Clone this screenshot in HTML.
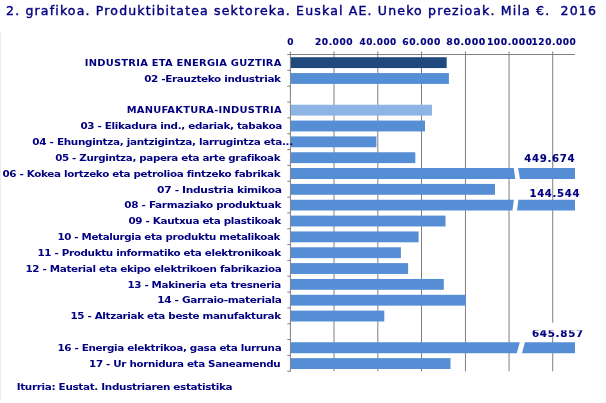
<!DOCTYPE html>
<html lang="eu"><head><meta charset="utf-8"><title>2. grafikoa</title>
<style>
html,body{margin:0;padding:0;background:#fff;}
body{width:606px;height:403px;overflow:hidden;position:relative;}
svg{position:absolute;left:0;top:0;display:block;}
text{font-family:"DejaVu Sans","Liberation Sans",sans-serif;fill:#000080;white-space:pre;}
.b{font-weight:bold;font-size:9.5px;letter-spacing:-0.3px}
.v{font-weight:bold;font-size:10.4px;letter-spacing:0.7px;stroke:#000080;stroke-width:0.12px}
.t{font-size:12.4px;letter-spacing:1.15px;stroke:#000080;stroke-width:0.4px}
.a{font-weight:bold;font-size:9.5px;letter-spacing:0.55px;stroke:#000080;stroke-width:0.12px}
.c{font-weight:bold;font-size:9.5px;letter-spacing:0.25px}
</style></head><body>
<svg width="606" height="403" viewBox="0 0 606 403" role="img" aria-label="2. grafikoa">
<rect x="0" y="0" width="606" height="403" fill="#fff"/>
<rect x="0" y="33" width="1" height="367.5" fill="#ececec"/>
<rect x="333.50" y="51.5" width="1" height="319.76" fill="#808080"/>
<rect x="377.30" y="51.5" width="1" height="319.76" fill="#808080"/>
<rect x="421.00" y="51.5" width="1" height="319.76" fill="#808080"/>
<rect x="464.95" y="51.5" width="1" height="319.76" fill="#808080"/>
<rect x="508.55" y="51.5" width="1" height="319.76" fill="#808080"/>
<rect x="552.20" y="51.5" width="1" height="319.76" fill="#808080"/>
<rect x="289.90" y="51.5" width="1" height="320.26" fill="#808080"/>
<rect x="289.90" y="54.0" width="285.10" height="1" fill="#808080"/>
<rect x="287.3" y="54.00" width="3.2" height="1" fill="#808080"/>
<rect x="287.3" y="69.84" width="3.2" height="1" fill="#808080"/>
<rect x="287.3" y="85.68" width="3.2" height="1" fill="#808080"/>
<rect x="287.3" y="101.51" width="3.2" height="1" fill="#808080"/>
<rect x="287.3" y="117.35" width="3.2" height="1" fill="#808080"/>
<rect x="287.3" y="133.19" width="3.2" height="1" fill="#808080"/>
<rect x="287.3" y="149.03" width="3.2" height="1" fill="#808080"/>
<rect x="287.3" y="164.87" width="3.2" height="1" fill="#808080"/>
<rect x="287.3" y="180.70" width="3.2" height="1" fill="#808080"/>
<rect x="287.3" y="196.54" width="3.2" height="1" fill="#808080"/>
<rect x="287.3" y="212.38" width="3.2" height="1" fill="#808080"/>
<rect x="287.3" y="228.22" width="3.2" height="1" fill="#808080"/>
<rect x="287.3" y="244.06" width="3.2" height="1" fill="#808080"/>
<rect x="287.3" y="259.89" width="3.2" height="1" fill="#808080"/>
<rect x="287.3" y="275.73" width="3.2" height="1" fill="#808080"/>
<rect x="287.3" y="291.57" width="3.2" height="1" fill="#808080"/>
<rect x="287.3" y="307.41" width="3.2" height="1" fill="#808080"/>
<rect x="287.3" y="323.25" width="3.2" height="1" fill="#808080"/>
<rect x="287.3" y="339.08" width="3.2" height="1" fill="#808080"/>
<rect x="287.3" y="354.92" width="3.2" height="1" fill="#808080"/>
<rect x="287.3" y="370.76" width="3.2" height="1" fill="#808080"/>
<rect x="290.90" y="57.22" width="155.80" height="10.85" fill="#1f497d"/>
<rect x="290.90" y="73.06" width="158.00" height="10.85" fill="#558ed5"/>
<rect x="290.90" y="104.73" width="141.10" height="10.85" fill="#8eb4e3"/>
<rect x="290.90" y="120.57" width="134.10" height="10.85" fill="#558ed5"/>
<rect x="290.90" y="136.41" width="85.50" height="10.85" fill="#558ed5"/>
<rect x="290.90" y="152.25" width="124.40" height="10.85" fill="#558ed5"/>
<path d="M290.90 168.09H513.70L515.30 178.94H290.90Z" fill="#558ed5"/>
<path d="M518.10 168.09H575.00V178.94H520.00Z" fill="#558ed5"/>
<rect x="290.90" y="183.92" width="204.10" height="10.85" fill="#558ed5"/>
<path d="M290.90 199.76H513.90L512.40 210.61H290.90Z" fill="#558ed5"/>
<path d="M518.40 199.76H575.00V210.61H517.10Z" fill="#558ed5"/>
<rect x="290.90" y="215.60" width="154.60" height="10.85" fill="#558ed5"/>
<rect x="290.90" y="231.44" width="127.70" height="10.85" fill="#558ed5"/>
<rect x="290.90" y="247.28" width="110.00" height="10.85" fill="#558ed5"/>
<rect x="290.90" y="263.11" width="117.20" height="10.85" fill="#558ed5"/>
<rect x="290.90" y="278.95" width="152.90" height="10.85" fill="#558ed5"/>
<rect x="290.90" y="294.79" width="174.90" height="10.85" fill="#558ed5"/>
<rect x="290.90" y="310.63" width="93.40" height="10.85" fill="#558ed5"/>
<path d="M290.90 342.30H519.80L516.75 353.15H290.90Z" fill="#558ed5"/>
<path d="M524.90 342.30H575.00V353.15H522.00Z" fill="#558ed5"/>
<rect x="290.90" y="358.14" width="159.60" height="10.85" fill="#558ed5"/>
<text class="t" transform="translate(6.03 15.00) scale(1.0107 1)">2. grafikoa. Produktibitatea sektoreka. Euskal AE. Uneko prezioak. Mila €.  2016</text>
<text class="a" transform="translate(287.17 45.00) scale(0.9488 1)">0</text>
<text class="a" transform="translate(314.91 45.00) scale(0.9595 1)">20.000</text>
<text class="a" transform="translate(359.49 45.00) scale(0.9343 1)">40.000</text>
<text class="a" transform="translate(402.30 45.00) scale(0.9668 1)">60.000</text>
<text class="a" transform="translate(446.30 45.00) scale(0.9912 1)">80.000</text>
<text class="a" transform="translate(486.89 45.00) scale(0.9705 1)">100.000</text>
<text class="a" transform="translate(531.55 45.00) scale(0.9507 1)">120.000</text>
<text class="c" transform="translate(84.79 66.00) scale(1.0397 1)">INDUSTRIA ETA ENERGIA GUZTIRA</text>
<text class="b" transform="translate(144.13 82.00) scale(1.0978 1)">02 -Erauzteko industriak</text>
<text class="c" transform="translate(126.68 113.00) scale(1.0407 1)">MANUFAKTURA-INDUSTRIA</text>
<text class="b" transform="translate(80.41 129.00) scale(1.0958 1)">03 - Elikadura ind., edariak, tabakoa</text>
<text class="b" transform="translate(32.36 145.00) scale(1.1019 1)">04 - Ehungintza, jantzigintza, larrugintza eta...</text>
<text class="b" transform="translate(55.14 161.00) scale(1.0855 1)">05 - Zurgintza, papera eta arte grafikoak</text>
<text class="b" transform="translate(2.46 177.00) scale(1.0919 1)">06 - Kokea lortzeko eta petrolioa fintzeko fabrikak</text>
<text class="b" transform="translate(157.05 193.00) scale(1.1266 1)">07 - Industria kimikoa</text>
<text class="b" transform="translate(124.36 208.00) scale(1.1022 1)">08 - Farmaziako produktuak</text>
<text class="b" transform="translate(128.46 224.00) scale(1.0953 1)">09 - Kautxua eta plastikoak</text>
<text class="b" transform="translate(57.44 240.00) scale(1.0832 1)">10 - Metalurgia eta produktu metalikoak</text>
<text class="b" transform="translate(37.39 256.00) scale(1.0903 1)">11 - Produktu informatiko eta elektronikoak</text>
<text class="b" transform="translate(25.39 272.00) scale(1.0940 1)">12 - Material eta ekipo elektrikoen fabrikazioa</text>
<text class="b" transform="translate(127.43 288.00) scale(1.0875 1)">13 - Makineria eta tresneria</text>
<text class="b" transform="translate(157.26 303.00) scale(1.1100 1)">14 - Garraio-materiala</text>
<text class="b" transform="translate(70.39 319.00) scale(1.0890 1)">15 - Altzariak eta beste manufakturak</text>
<text class="b" transform="translate(57.38 351.00) scale(1.0942 1)">16 - Energia elektrikoa, gasa eta lurruna</text>
<text class="b" transform="translate(89.12 367.00) scale(1.0885 1)">17 - Ur hornidura eta Saneamendu</text>
<text class="v" transform="translate(524.18 162.00) scale(0.9796 1)">449.674</text>
<text class="v" transform="translate(529.43 197.00) scale(0.9726 1)">144.544</text>
<rect x="530" y="322.8" width="56" height="14.3" fill="#fff"/>
<text class="v" transform="translate(531.97 337.00) scale(0.9946 1)">645.857</text>
<rect x="530" y="322.8" width="56" height="7.55" fill="#fff"/>
<text class="b" transform="translate(16.63 390.00) scale(1.0969 1)">Iturria: Eustat. Industriaren estatistika</text>
</svg>
</body></html>
